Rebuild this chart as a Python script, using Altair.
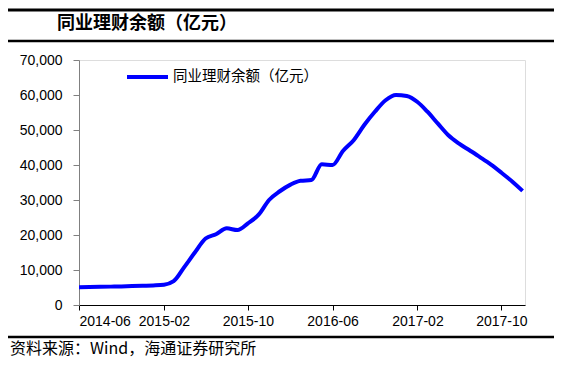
import altair as alt
import pandas as pd

# Monthly dates 2014-06 .. 2017-12
dates = pd.date_range("2014-06-01", "2017-12-01", freq="MS").strftime("%Y-%m-%d").tolist()
values = [5100, 5150, 5200, 5250, 5300, 5400, 5500, 5600, 5800,
          6800, 10900, 15000, 19000, 20200, 21900, 21400, 23300, 25800,
          30000, 32500, 34400, 35500, 35700, 40200, 40000, 44000, 47100,
          51500, 55200, 58500, 60000, 59700, 58000, 55300, 51800, 48500,
          46100, 44200, 42200, 40100, 37800, 35300, 32600]
y_ticks = [0, 10000, 20000, 30000, 40000, 50000, 60000, 70000]
x_ticks = [(2014, 6), (2015, 2), (2015, 10), (2016, 6), (2017, 2), (2017, 10)]
title_text = "同业理财余额（亿元）"
legend_text = "同业理财余额（亿元）"
source_text = "资料来源：Wind，海通证券研究所"

df = pd.DataFrame({"date": dates, "value": values})

CJK = "Noto Sans CJK SC"
LAT = "Liberation Sans"

line = alt.Chart(df).mark_line(color="#0000FF", strokeWidth=4, interpolate="monotone").encode(
    x=alt.X("date:T", title=None,
            scale=alt.Scale(type="utc",
                            domain=[alt.DateTime(year=2014, month=6, date=1, utc=True),
                                    alt.DateTime(year=2017, month=12, date=8, utc=True)]),
            axis=alt.Axis(values=[alt.DateTime(year=y, month=m, date=1, utc=True) for y, m in x_ticks],
                          labelExpr="utcFormat(datum.value, '%Y-%m')", grid=False,
                          domainColor="black", tickColor="black", tickSize=5,
                          labelPadding=4, labelFont=LAT, labelFontSize=14, labelColor="black")),
    y=alt.Y("value:Q", title=None,
            scale=alt.Scale(domain=[0, 70000]),
            axis=alt.Axis(values=y_ticks, labelExpr="format(datum.value, ',.0f')", grid=False,
                          domainColor="#808080", tickColor="#808080", tickSize=6,
                          labelPadding=11, labelFont=LAT, labelFontSize=14, labelColor="black"))
)

def rule(x1, x2, y, color="black", w=2):
    return alt.Chart(pd.DataFrame({"a": [0]})).mark_rule(color=color, strokeWidth=w).encode(
        x=alt.value(x1), x2=alt.value(x2), y=alt.value(y))

def text(t, x, y, size, weight="normal", font=CJK):
    return alt.Chart(pd.DataFrame({"t": [t]})).mark_text(
        align="left", baseline="middle", fontSize=size, fontWeight=weight, font=font, color="black"
    ).encode(x=alt.value(x), y=alt.value(y), text="t:N")

layers = [
    rule(-71, 475, -50, w=3),
    text(title_text, -22, -36, 18, "bold"),
    rule(-71, 475, -19, w=2.5),
    rule(48, 89, 17, color="#0000FF", w=4),
    text(legend_text, 94, 17, 14.5),
    line,
    rule(-71, 475, 277, w=2.5),
    text(source_text, -69, 289, 16),
]

chart = alt.layer(*layers).properties(
    width=446, height=245,
    autosize=alt.AutoSizeParams(type="none"),
    padding={"left": 71, "top": 52, "right": 29, "bottom": 55},
).configure_view(stroke=None).configure(background="white")

chart.save("out.html", embed_options={"renderer": "svg", "actions": False})
